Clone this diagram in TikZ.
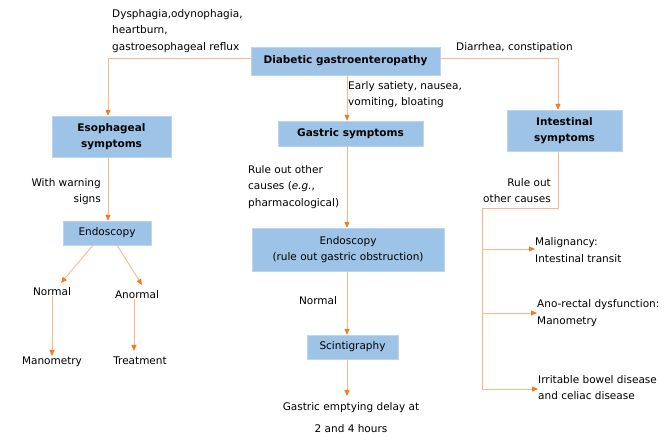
\documentclass[tikz,border=0pt]{standalone}
\usepackage{fontspec}
\setmainfont{DejaVu Sans}
\usetikzlibrary{arrows.meta}
\definecolor{boxblue}{HTML}{9DC3E6}
\definecolor{lineorange}{HTML}{F8B98A}
\definecolor{tiporange}{HTML}{F47B20}
\tikzset{
  box/.style={fill=boxblue,draw=boxblue!70!white,inner sep=0pt,align=center,font=\fontsize{10.5}{16}\selectfont},
  lbl/.style={inner sep=0pt,font=\fontsize{10.5}{16.5}\selectfont},
  link/.style={draw=lineorange,line width=0.9pt,-{Triangle[length=6pt,width=5pt,color=tiporange]}},
  plain/.style={draw=lineorange,line width=0.9pt}
}
\begin{document}
\begin{tikzpicture}[x=1pt,y=-1pt]
\useasboundingbox (0,0) rectangle (670,443);
% top
\node[box,minimum width=189,minimum height=28] (dg) at (345.5,61) {\bfseries Diabetic gastroenteropathy};
\node[lbl,anchor=north west,align=left] (dys) at (112,9) {Dysphagia,odynophagia,\\heartburn,\\gastroesophageal reflux};
\node[lbl,anchor=west] (dia) at (456,48) {Diarrhea, constipation};
\node[lbl,anchor=north west,align=left] (ear) at (348,81) {Early satiety, nausea,\\vomiting, bloating};
% esophageal branch
\node[box,minimum width=119,minimum height=41] (eso) at (111.5,136.5) {\bfseries Esophageal\\\bfseries symptoms};
\node[lbl,anchor=north east,align=right] (warn) at (101,178) {With warning\\signs};
\node[box,minimum width=88,minimum height=24] (endo) at (107,233) {Endoscopy};
\node[lbl] (nor) at (52,292) {Normal};
\node[lbl] (anor) at (137,295) {Anormal};
\node[lbl] (mano) at (52,362) {Manometry};
\node[lbl] (treat) at (140,361) {Treatment};
\draw[link] (dg.west |- 0,58) -| (eso.north -| 108,0);
\draw[link] (eso.south -| 108,0) -- (endo.north -| 108,0);
\draw[link] ([xshift=-14pt]endo.south) -- (61,283);
\draw[link] ([xshift=10pt]endo.south) -- (142,285);
\draw[link] (nor.south -| 52,0) -- (52,356);
\draw[link] (anor.south -| 134,0) -- (134,351);
% gastric branch
\node[box,minimum width=145,minimum height=25] (gas) at (350.5,133.5) {\bfseries Gastric symptoms};
\node[lbl,anchor=north west,align=left] (rule) at (248,165) {Rule out other\\causes (\textit{e.g.},\\pharmacological)};
\node[box,minimum width=192,minimum height=43] (endob) at (348,249.5) {Endoscopy\\(rule out gastric obstruction)};
\node[lbl] (norb) at (318,301) {Normal};
\node[box,minimum width=91,minimum height=24] (scin) at (352.5,347) {Scintigraphy};
\node[lbl,align=center,font=\fontsize{10.5}{22}\selectfont] (delay) at (351,417.5) {Gastric emptying delay at\\2 and 4 hours};
\draw[link] (dg.south -| 347,0) -- (gas.north -| 347,0);
\draw[link] (gas.south -| 347,0) -- (endob.north -| 347,0);
\draw[link] (endob.south -| 347,0) -- (scin.north -| 347,0);
\draw[link] (scin.south -| 347,0) -- (347,396);
% intestinal branch
\node[box,minimum width=115,minimum height=41] (int) at (564.5,130.5) {\bfseries Intestinal\\\bfseries symptoms};
\node[lbl,anchor=north east,align=right] (ruleb) at (551,178) {Rule out\\other causes};
\node[lbl,anchor=west,align=left] (mal) at (535,250) {Malignancy:\\Intestinal transit};
\node[lbl,anchor=west,align=left] (ano) at (537,313) {Ano-rectal dysfunction:\\Manometry};
\node[lbl,anchor=west,align=left] (irr) at (538,387.5) {Irritable bowel disease\\and celiac disease};
\draw[link] (dg.east |- 0,58) -| (int.north -| 558,0);
\draw[plain] (int.south -| 558,0) |- (482,208) -- (482,389);
\draw[link] (482,249) -- (mal.west |- 0,249);
\draw[link] (482,313) -- (ano.west |- 0,313);
\draw[link] (482,389) -- (irr.west |- 0,389);
\end{tikzpicture}
\end{document}
